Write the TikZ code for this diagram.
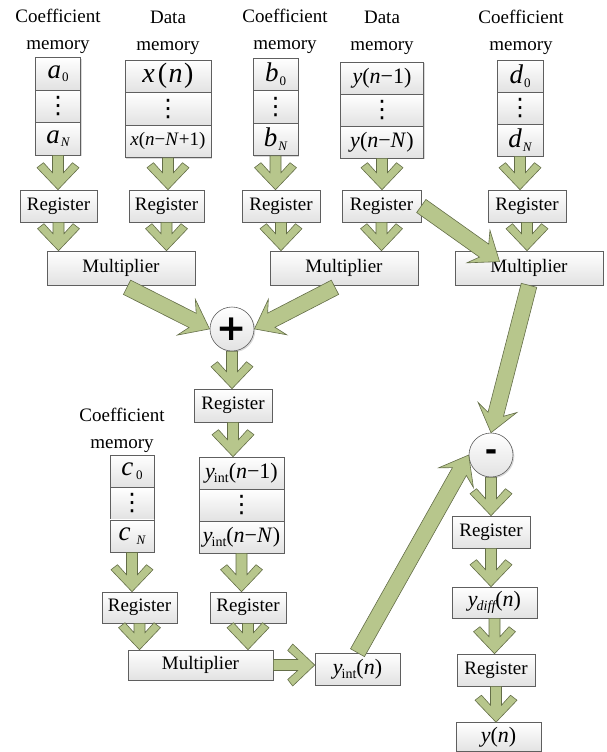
\documentclass[tikz,border=0pt]{standalone}
\usepackage{fontspec}
\setmainfont{Liberation Serif}
\newfontfamily\dejavu{DejaVu Sans}
\usetikzlibrary{calc,shadows}
\definecolor{arrfill}{RGB}{183,198,140}
\definecolor{arrline}{RGB}{100,110,72}
\definecolor{boxline}{RGB}{95,95,95}
\definecolor{boxbot}{RGB}{226,226,226}
\newcommand\fs[1]{\fontsize{#1}{#1}\selectfont}
\newcommand\cvar[3][1pt]{{\fs{27}\itshape #2}\kern#1\raisebox{-3.5pt}{\fs{13}#3}}
\newcommand\vdts{{\dejavu\fs{24}⋮}}
\makeatletter
\newcommand\blockarrow[3]{%
  \path (#1) coordinate (faS) (#2) coordinate (faE);%
  \pgfpointdiff{\pgfpointanchor{faS}{center}}{\pgfpointanchor{faE}{center}}%
  \edef\faDx{\the\pgf@x}\edef\faDy{\the\pgf@y}%
  \pgfmathsetmacro\faLen{veclen(\faDx,\faDy)}%
  \pgfmathsetmacro\faAng{atan2(\faDy,\faDx)}%
  \begin{scope}[shift={(faS)},rotate=\faAng,x=1pt,y=1pt]#3\end{scope}}
\makeatother
\newcommand\chev[2]{\blockarrow{#1}{#2}{\draw[arr] (0,5.5) -- ({\faLen-17},5.5) -- ({\faLen-27},14.5) -- ({\faLen-22},21) -- (\faLen,0) -- ({\faLen-22},-21) -- ({\faLen-27},-14.5) -- ({\faLen-17},-5.5) -- (0,-5.5) -- cycle;}}
\newcommand\bigarr[2]{\blockarrow{#1}{#2}{\draw[arr] (0,8) -- ({\faLen-19},8) -- ({\faLen-26},20) -- (\faLen,0) -- ({\faLen-26},-20) -- ({\faLen-19},-8) -- (0,-8) -- cycle;}}
\begin{document}
\begin{tikzpicture}[x=1pt,y=-1pt,
  box/.style={draw=boxline, line width=0.6pt, top color=white, bottom color=boxbot,
    drop shadow={shadow xshift=1.3pt,shadow yshift=-1.3pt,opacity=0.3},
    inner sep=0pt, font=\fs{19}, text=black, minimum height=32pt},
  lbl/.style={font=\fontsize{19}{27}\selectfont, align=center, inner sep=0pt},
  arr/.style={fill=arrfill, draw=arrline, line width=0.6pt, line join=miter},
  circ/.style={circle, draw=boxline, line width=0.6pt, top color=white, bottom color=boxbot,
    drop shadow={shadow xshift=1.3pt,shadow yshift=-1.3pt,opacity=0.3},
    minimum size=44pt, inner sep=0pt}]
\useasboundingbox (0,0) rectangle (606,752);
% labels
\node[lbl] (L1) at (58,31) {Coefficient\\memory};
\node[lbl] (L2) at (168,33) {Data\\memory};
\node[lbl] (L3) at (285,31) {Coefficient\\memory};
\node[lbl] (L4) at (382,33) {Data\\memory};
\node[lbl] (L5) at (521,32) {Coefficient\\memory};
\node[lbl] (L6) at (122,430) {Coefficient\\memory};
% memory columns top
\node[box, minimum width=45pt, minimum height=32.5pt] (a1) at (58,73.75) {\cvar{a}{0}};
\node[box, minimum width=45pt, minimum height=32.5pt] (a2) at (58,106.25) {\vdts};
\node[box, minimum width=45pt, minimum height=32.5pt] (a3) at (58,138.75) {\cvar{a}{\itshape N}};
\node[box, minimum width=86pt, minimum height=32.5pt] (x1) at (168,76.25) {\fs{28}\textit{x}\kern3pt(\kern1.5pt\textit{n}\kern1.5pt)};
\node[box, minimum width=86pt, minimum height=32.5pt] (x2) at (168,108.75) {\vdts};
\node[box, minimum width=86pt, minimum height=32.5pt] (x3) at (168,141.25) {\fs{19}\textit{x}(\textit{n}−\textit{N}+1)};
\node[box, minimum width=45pt, minimum height=32.5pt] (b1) at (275.5,74.25) {\cvar{b}{0}};
\node[box, minimum width=45pt, minimum height=32.5pt] (b2) at (275.5,106.75) {\vdts};
\node[box, minimum width=45pt, minimum height=32.5pt] (b3) at (275.5,139.25) {\cvar{b}{\itshape N}};
\node[box, minimum width=83pt, minimum height=32pt] (y1) at (382,78) {\fs{22}\textit{y}(\textit{n}−1)};
\node[box, minimum width=83pt, minimum height=32pt] (y2) at (382,110) {\vdts};
\node[box, minimum width=83pt, minimum height=32pt] (y3) at (382,142) {\fs{22}\textit{y}(\textit{n}−\textit{N})};
\node[box, minimum width=46pt, minimum height=32pt] (d1) at (520,76) {\cvar{d}{0}};
\node[box, minimum width=46pt, minimum height=32pt] (d2) at (520,108) {\vdts};
\node[box, minimum width=46pt, minimum height=32pt] (d3) at (520,140) {\cvar{d}{\itshape N}};
% registers row 1
\node[box, minimum width=77pt] (r1) at (58.5,206) {Register};
\node[box, minimum width=75pt] (r2) at (166.5,206) {Register};
\node[box, minimum width=78pt] (r3) at (281,206) {Register};
\node[box, minimum width=79pt] (r4) at (381.5,206) {Register};
\node[box, minimum width=78pt] (r5) at (527,206) {Register};
% multipliers
\node[box, minimum width=148pt, minimum height=34pt] (m1) at (121,268) {Multiplier};
\node[box, minimum width=148pt, minimum height=34pt] (m2) at (344,268) {Multiplier};
\node[box, minimum width=148pt, minimum height=34pt] (m3) at (529,268) {Multiplier};
\coordinate (m3in) at ($(m3.north west)+(45,11)$);
% adder
\node[circ] (plus) at (232,329) {\dejavu\bfseries\fs{36}+};
\node[box, minimum width=78pt, minimum height=33pt] (rm) at (233,405.5) {Register};
% c column and y_int column
\node[box, minimum width=44pt, minimum height=32.3pt] (c1) at (132,471) {\cvar[3pt]{c}{0}};
\node[box, minimum width=44pt, minimum height=32.3pt] (c2) at (132,503.5) {\vdts};
\node[box, minimum width=44pt, minimum height=32.3pt] (c3) at (132,536) {\cvar[6pt]{c}{\itshape N}};
\node[box, minimum width=85pt, minimum height=32pt] (i1) at (241.5,473) {\fs{22}\textit{y}\kern-1pt\raisebox{-4pt}{\fs{14}int}(\textit{n}−1)};
\node[box, minimum width=85pt, minimum height=32pt] (i2) at (241.5,505) {\vdts};
\node[box, minimum width=85pt, minimum height=32pt] (i3) at (241.5,537) {\fs{22}\textit{y}\kern-1pt\raisebox{-4pt}{\fs{14}int}(\textit{n}−\textit{N})};
\node[box, minimum width=75pt, minimum height=31pt] (rc) at (139.5,607.5) {Register};
\node[box, minimum width=76pt, minimum height=31pt] (ri) at (248,607.5) {Register};
\node[box, minimum width=145pt, minimum height=30pt] (mb) at (200.5,665) {Multiplier};
\node[box, minimum width=85pt, minimum height=32pt] (yi) at (357.5,669) {\fs{22}\textit{y}\kern-1pt\raisebox{-4pt}{\fs{14}int}(\textit{n})};
% subtractor chain
\node[circ] (minus) at (491,455) {\dejavu\bfseries\fs{30}-};
\node[box, minimum width=78pt] (rd1) at (491,532) {Register};
\node[box, minimum width=85pt, minimum height=31pt] (yd) at (494.5,602.5) {\fs{22}\textit{y}\kern-1pt\raisebox{-4pt}{\fs{14}\itshape diff}(\textit{n})};
\node[box, minimum width=78pt] (rd2) at (496,670) {Register};
\node[box, minimum width=85pt, minimum height=29pt] (yn) at (498.5,737) {\fs{22}\textit{y}(\textit{n})};
% chevron arrows
\chev{a3.south}{a3.south |- r1.north}
\chev{x3.south}{x3.south |- r2.north}
\chev{b3.south}{b3.south |- r3.north}
\chev{y3.south}{y3.south |- r4.north}
\chev{d3.south}{d3.south |- r5.north}
\chev{r1.south}{r1.south |- m1.north}
\chev{r2.south}{r2.south |- m1.north}
\chev{r3.south}{r3.south |- m2.north}
\chev{r4.south}{r4.south |- m2.north}
\chev{r5.south}{r5.south |- m3.north}
\chev{plus.south}{plus.south |- rm.north}
\chev{rm.south}{rm.south |- i1.north}
\chev{c3.south}{c3.south |- rc.north}
\chev{i3.south}{i3.south |- ri.north}
\chev{rc.south}{rc.south |- mb.north}
\chev{ri.south}{ri.south |- mb.north}
\chev{mb.east}{mb.east -| yi.west}
\chev{minus.south}{minus.south |- rd1.north}
\chev{rd1.south}{rd1.south |- yd.north}
\chev{yd.south}{yd.south |- rd2.north}
\chev{rd2.south}{rd2.south |- yn.north}
% big arrows
\bigarr{$(m1.south)+(6,2)$}{plus.west}
\bigarr{$(m2.south)+(-9,2)$}{plus.east}
\bigarr{r4.east}{m3in}
\bigarr{m3.south}{minus.north}
\bigarr{yi.north}{minus.west}
\end{tikzpicture}
\end{document}
